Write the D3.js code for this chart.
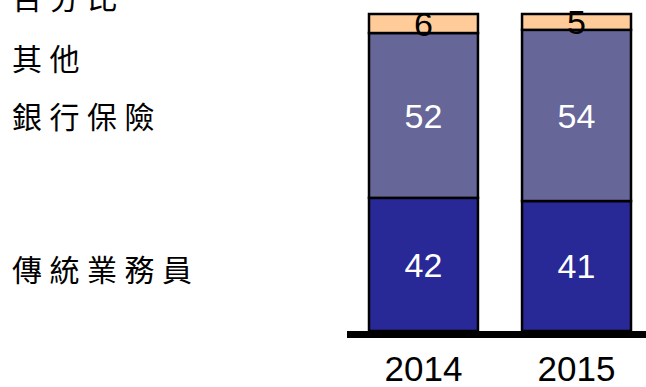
<!DOCTYPE html>
<html>
<head>
<meta charset="utf-8">
<script src="https://cdn.jsdelivr.net/npm/d3@7/dist/d3.min.js"></script>
<style>
  html, body { margin: 0; padding: 0; background: #fff; }
  svg { display: block; }
</style>
</head>
<body>
<svg id="chart" width="646" height="387"></svg>
<script>
const years = ["2014", "2015"];
const seriesNames = ["傳統業務員", "銀行保險", "其他"];
const agentValues = [42, 41];
const bancaValues = [52, 54];
const otherValues = [6, 5];
const unitLabel = "百分比";

const colors = ["#282896", "#666699", "#FFCC99"];
const labelColors = ["#ffffff", "#ffffff", "#000000"];

const rows = years.map((y, i) => ({
  year: y,
  "傳統業務員": agentValues[i],
  "銀行保險": bancaValues[i],
  "其他": otherValues[i]
}));

const svg = d3.select("#chart");
const x = d3.scaleBand().domain(years).range([369, 631]).paddingInner(0.288).paddingOuter(0);
const y = d3.scaleLinear().domain([0, 100]).range([331, 14]);

const stack = d3.stack().keys(seriesNames);
const stacked = stack(rows);

const layers = svg.selectAll("g.layer").data(stacked).join("g")
  .attr("class", "layer")
  .attr("fill", (d, i) => colors[i]);

layers.selectAll("rect").data(d => d).join("rect")
  .attr("x", d => x(d.data.year))
  .attr("y", d => y(d[1]))
  .attr("width", x.bandwidth())
  .attr("height", d => y(d[0]) - y(d[1]))
  .attr("stroke", "#000")
  .attr("stroke-width", 2.5);

stacked.forEach((layer, li) => {
  svg.append("g").selectAll("text").data(layer).join("text")
    .attr("x", d => x(d.data.year) + x.bandwidth() / 2)
    .attr("y", d => (y(d[0]) + y(d[1])) / 2)
    .attr("dy", "0.36em")
    .attr("text-anchor", "middle")
    .attr("font-family", "Liberation Sans, Arial, sans-serif")
    .attr("font-size", 34)
    .attr("fill", labelColors[li])
    .text(d => d[1] - d[0]);
});

// baseline
svg.append("line")
  .attr("x1", 347).attr("x2", 646)
  .attr("y1", y(0) + 3.5).attr("y2", y(0) + 3.5)
  .attr("stroke", "#000").attr("stroke-width", 7);

// year labels
svg.append("g").selectAll("text").data(years).join("text")
  .attr("x", d => x(d) + x.bandwidth() / 2)
  .attr("y", 381)
  .attr("text-anchor", "middle")
  .attr("font-family", "Liberation Sans, Arial, sans-serif")
  .attr("font-size", 35)
  .attr("fill", "#000")
  .text(d => d);

// left legend labels
const legendItems = [
  { text: unitLabel, cy: -2 },
  { text: seriesNames[2], cy: 59 },
  { text: seriesNames[1], cy: 117 },
  { text: seriesNames[0], cy: 270 }
];
svg.append("g").selectAll("text").data(legendItems).join("text")
  .attr("x", 12)
  .attr("y", d => d.cy)
  .attr("dy", "0.36em")
  .attr("font-family", "Noto Sans CJK TC, sans-serif")
  .attr("font-size", 30)
  .attr("letter-spacing", 7.5)
  .attr("fill", "#000")
  .text(d => d.text);
</script>
</body>
</html>
